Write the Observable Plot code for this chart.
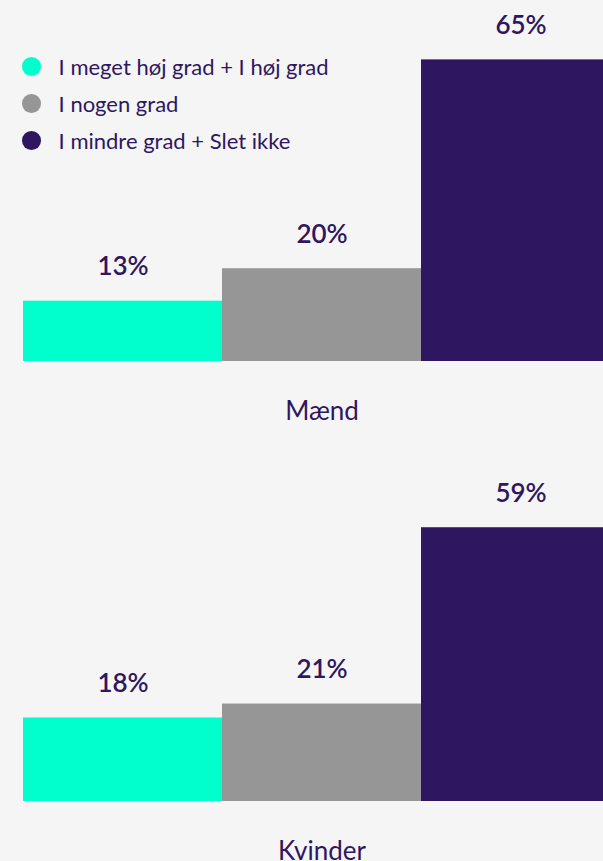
<!DOCTYPE html>
<html>
<head>
<meta charset="utf-8">
<script src="https://cdn.jsdelivr.net/npm/d3@7"></script>
<script src="https://cdn.jsdelivr.net/npm/@observablehq/plot@0.6"></script>
<style>
  html, body { margin: 0; padding: 0; background: #f5f5f5; overflow: hidden; }
  body { width: 603px; height: 861px; position: relative; font-family: Lato, "Noto Sans", sans-serif; color: #2e1760; }
  #legend { position: absolute; left: 22px; top: 48px; }
  .row { display: flex; align-items: center; height: 37px; font-size: 22px; }
  .sw { width: 18.6px; height: 18.6px; border-radius: 50%; margin-right: 18px; flex: none; }
  svg { display: block; overflow: hidden; }
</style>
</head>
<body>
<div id="charts"></div>
<div id="legend"></div>
<script>
const categories = ["I meget høj grad + I høj grad", "I nogen grad", "I mindre grad + Slet ikke"];
const colors = ["#00ffcc", "#969696", "#2e1760"];
const groups = ["Mænd", "Kvinder"];
const maendValues = [13, 20, 65];
const kvinderValues = [18, 21, 59];
const groupValues = [maendValues, kvinderValues];

const textColor = "#2e1760";

groups.forEach((g, gi) => {
  const data = categories.map((c, i) => ({category: c, value: groupValues[gi][i]}));
  const chart = Plot.plot({
    width: 603,
    height: 440,
    marginLeft: 22,
    marginRight: -18,
    marginTop: 0,
    marginBottom: 79,
    style: {background: "transparent", overflow: "hidden", fontFamily: "Lato, sans-serif"},
    x: {domain: categories, padding: 0, axis: null},
    y: {domain: [0, 77.8], axis: null},
    color: {domain: categories, range: colors},
    marks: [
      Plot.barY(data, {x: "category", y: "value", fill: "category"}),
      Plot.text(data, {
        x: "category", y: "value",
        text: d => d.value + "%",
        lineAnchor: "bottom", dy: -26,
        fontSize: 26, fontWeight: 600, fill: textColor
      }),
      Plot.text([g], {
        frameAnchor: "bottom", lineAnchor: "bottom", dy: 58,
        text: d => d, fontSize: 26, fill: textColor
      })
    ]
  });
  document.getElementById("charts").appendChild(chart);
});

const legend = document.getElementById("legend");
categories.forEach((c, i) => {
  const row = document.createElement("div");
  row.className = "row";
  const sw = document.createElement("span");
  sw.className = "sw";
  sw.style.background = colors[i];
  const label = document.createElement("span");
  label.textContent = c;
  row.appendChild(sw);
  row.appendChild(label);
  legend.appendChild(row);
});
</script>
</body>
</html>
